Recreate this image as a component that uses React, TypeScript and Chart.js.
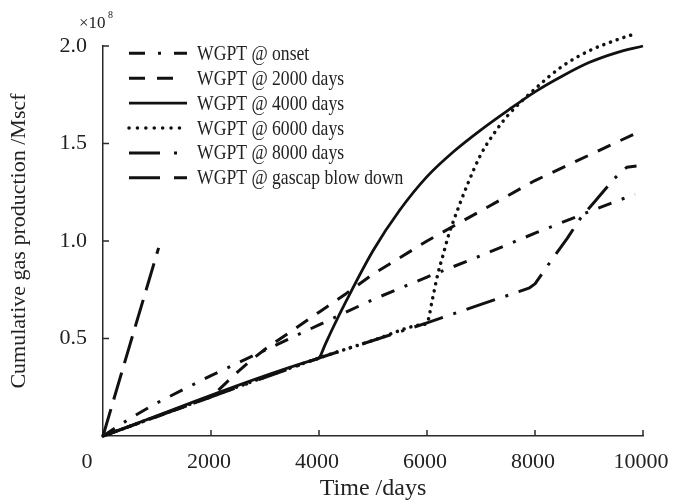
import { useEffect, useRef } from "react";
import { Chart, registerables } from "chart.js";

Chart.register(...registerables);

// ---- data (cumulative gas production in units of 1e8 Mscf) ----
const onsetDays = [0, 500, 1000, 2000, 3000, 4000, 5000, 6000, 7000, 8000, 9000, 9850];
const onsetWgpt = [0, 0.09, 0.17, 0.31, 0.44, 0.57, 0.7, 0.815, 0.925, 1.04, 1.15, 1.24];

const d2000Days = [0, 2000, 2250, 2500, 2750, 3000, 3500, 4000, 4500, 5000, 6000, 7000, 8000, 9000, 9850];
const d2000Wgpt = [0, 0.2, 0.265, 0.33, 0.39, 0.445, 0.54, 0.635, 0.73, 0.83, 1.0, 1.155, 1.31, 1.44, 1.55];

const d4000Days = [0, 3900, 4000, 4100, 4250, 4500, 5000, 5500, 6000, 6500, 7000, 7500, 8000, 8500, 9000, 9500, 10000];
const d4000Wgpt = [0, 0.39, 0.4, 0.46, 0.55, 0.69, 0.95, 1.16, 1.33, 1.46, 1.57, 1.67, 1.765, 1.845, 1.915, 1.965, 2.0];

const d6000Days = [0, 4000, 5000, 5900, 6000, 6100, 6200, 6300, 6400, 6500, 6750, 7000, 7250, 7500, 8000, 8500, 9000, 9500, 9880];
const d6000Wgpt = [0, 0.4, 0.49, 0.571, 0.58, 0.7, 0.83, 0.93, 1.03, 1.11, 1.29, 1.445, 1.555, 1.645, 1.78, 1.895, 1.975, 2.03, 2.065];

const d8000Days = [0, 4000, 6000, 7000, 7700, 7900, 8000, 8100, 8300, 8600, 8850, 9100, 9300, 9450, 9600, 9700, 9880];
const d8000Wgpt = [0, 0.4, 0.58, 0.675, 0.74, 0.76, 0.78, 0.82, 0.9, 1.015, 1.12, 1.2, 1.265, 1.315, 1.355, 1.378, 1.385];

const gascapDays = [0, 500, 1030];
const gascapWgpt = [0, 0.47, 0.965];

const seriesLabels = [
  "WGPT @ onset",
  "WGPT @ 2000 days",
  "WGPT @ 4000 days",
  "WGPT @ 6000 days",
  "WGPT @ 8000 days",
  "WGPT @ gascap blow down",
];

const xTickValues = [0, 2000, 4000, 6000, 8000, 10000];
const yTickValues = [0, 0.5, 1.0, 1.5, 2.0];

const xTitle = "Time /days";
const yTitle = "Cumulative gas production /Mscf";

// ---- styles ----
const INK = "#111";
const AXIS = "#2a2a2a";
const FONT = '"Liberation Serif", "Times New Roman", serif';

type Style = {
  dash: number[];
  cap: CanvasLineCap;
  legendDash: number[];
  legendLen: number;
  width: number;
  smooth: boolean;
};
const styles: Style[] = [
  { dash: [14, 11, 3, 11], cap: "butt", legendDash: [16, 13, 3, 13], legendLen: 58, width: 3, smooth: false },
  { dash: [14, 11], cap: "butt", legendDash: [16, 12], legendLen: 44, width: 3, smooth: false },
  { dash: [], cap: "butt", legendDash: [], legendLen: 58, width: 2.8, smooth: true },
  { dash: [0.1, 7], cap: "round", legendDash: [0.1, 8.3], legendLen: 55, width: 3.5, smooth: true },
  { dash: [30, 11, 3, 11], cap: "butt", legendDash: [31, 14, 3], legendLen: 50, width: 3, smooth: false },
  { dash: [28, 10], cap: "butt", legendDash: [31, 14, 13], legendLen: 58, width: 3, smooth: false },
];

function pts(days: number[], vals: number[]) {
  return days.map((d, i) => ({ x: d, y: vals[i] }));
}

const decorPlugin = {
  id: "decor",
  afterDraw(chart: any) {
    const { ctx, chartArea, scales } = chart;
    const xs = scales.x;
    const ys = scales.y;
    ctx.save();
    // inward tick marks
    ctx.strokeStyle = AXIS;
    ctx.lineWidth = 1.5;
    ctx.beginPath();
    yTickValues.forEach((v) => {
      if (v === 0) return;
      const y = ys.getPixelForValue(v);
      ctx.moveTo(chartArea.left, y);
      ctx.lineTo(chartArea.left + 6, y);
    });
    xTickValues.forEach((v) => {
      if (v === 0) return;
      const x = xs.getPixelForValue(v);
      ctx.moveTo(x, chartArea.bottom);
      ctx.lineTo(x, chartArea.bottom - 6);
    });
    ctx.stroke();

    // origin label
    ctx.fillStyle = "#222";
    ctx.font = `22px ${FONT}`;
    ctx.textAlign = "center";
    ctx.textBaseline = "middle";
    ctx.fillText("0", chartArea.left - 16, chartArea.bottom + 26);

    // exponent
    ctx.textAlign = "left";
    ctx.textBaseline = "alphabetic";
    ctx.font = `17px ${FONT}`;
    ctx.fillText("×10", chartArea.left - 24, chartArea.top - 18);
    ctx.font = `10px ${FONT}`;
    ctx.fillText("8", chartArea.left + 5, chartArea.top - 28);

    // legend
    const x0 = chartArea.left + 26;
    chart.data.datasets.forEach((ds: any, i: number) => {
      const st = styles[i];
      const y = chartArea.top + 7.3 + i * 24.9;
      ctx.strokeStyle = INK;
      ctx.lineWidth = st.width;
      ctx.lineCap = st.cap;
      ctx.setLineDash(st.legendDash);
      ctx.beginPath();
      ctx.moveTo(x0, y);
      ctx.lineTo(x0 + st.legendLen, y);
      ctx.stroke();
      ctx.setLineDash([]);
      ctx.fillStyle = "#222";
      ctx.font = `21px ${FONT}`;
      ctx.textAlign = "left";
      ctx.textBaseline = "middle";
      ctx.save();
      ctx.translate(x0 + 68, y + 1);
      ctx.scale(0.84, 1);
      ctx.fillText(ds.label, 0, 0);
      ctx.restore();
    });
    ctx.restore();
  },
};

export default function App() {
  const ref = useRef<HTMLCanvasElement | null>(null);

  useEffect(() => {
    if (!ref.current) return;
    const sources = [
      pts(onsetDays, onsetWgpt),
      pts(d2000Days, d2000Wgpt),
      pts(d4000Days, d4000Wgpt),
      pts(d6000Days, d6000Wgpt),
      pts(d8000Days, d8000Wgpt),
      pts(gascapDays, gascapWgpt),
    ];
    const datasets = sources.map((data, i) => ({
      label: seriesLabels[i],
      data,
      borderColor: INK,
      backgroundColor: INK,
      borderWidth: styles[i].width,
      borderDash: styles[i].dash,
      borderCapStyle: styles[i].cap,
      borderJoinStyle: "round" as const,
      pointRadius: 0,
      pointHoverRadius: 0,
      cubicInterpolationMode: styles[i].smooth ? ("monotone" as const) : ("default" as const),
      tension: 0,
      fill: false,
      clip: false as any,
    }));

    const chart = new Chart(ref.current, {
      type: "line",
      data: { datasets },
      options: {
        animation: false,
        responsive: false,
        events: [],
        layout: { padding: { top: 46, right: 30, bottom: 0, left: 0 } },
        plugins: {
          legend: { display: false },
          tooltip: { enabled: false },
        },
        scales: {
          x: {
            type: "linear",
            min: 0,
            max: 10000,
            afterFit: (s: any) => {
              s.height = 64;
              s.paddingLeft = 0;
              s.paddingRight = 0;
            },
            afterBuildTicks: (s: any) => {
              s.ticks = xTickValues.map((v) => ({ value: v }));
            },
            grid: { display: false, drawTicks: false },
            border: { display: true, color: AXIS, width: 1.5 },
            ticks: {
              color: "#222",
              font: { family: FONT, size: 22 },
              padding: 13,
              labelOffset: -2,
              maxRotation: 0,
              autoSkip: false,
              callback: (v: any) => (Number(v) === 0 ? "" : String(v)),
            },
            title: {
              display: true,
              text: xTitle,
              color: "#222",
              font: { family: FONT, size: 24, lineHeight: 1 },
              padding: { top: 0, bottom: -1 },
            },
          },
          y: {
            type: "linear",
            min: 0,
            max: 2.0,
            afterFit: (s: any) => {
              s.width = 103;
              s.paddingTop = 0;
              s.paddingBottom = 0;
            },
            afterBuildTicks: (s: any) => {
              s.ticks = yTickValues.map((v) => ({ value: v }));
            },
            grid: { display: false, drawTicks: false },
            border: { display: true, color: AXIS, width: 1.5 },
            ticks: {
              color: "#222",
              font: { family: FONT, size: 22 },
              padding: 16,
              autoSkip: false,
              callback: (v: any) => (Number(v) === 0 ? "" : Number(v).toFixed(1)),
            },
            title: {
              display: true,
              text: yTitle,
              color: "#222",
              font: { family: FONT, size: 22, lineHeight: 1 },
              padding: { top: 8, bottom: 0 },
            },
          },
        },
      },
      plugins: [decorPlugin],
    });
    return () => chart.destroy();
  }, []);

  return (
    <div style={{ position: "absolute", left: 0, top: 0, width: 673, height: 500, background: "#fff" }}>
      <canvas ref={ref} width={673} height={500} style={{ display: "block" }} />
    </div>
  );
}
